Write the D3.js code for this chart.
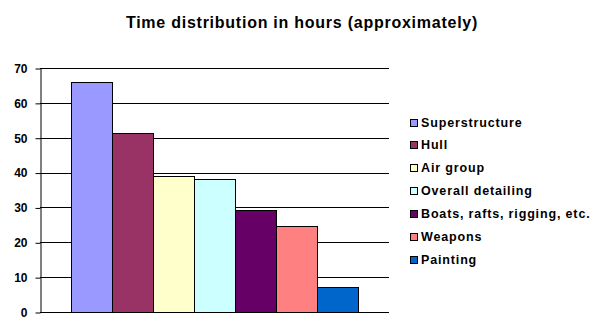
<!DOCTYPE html>
<html>
<head>
<meta charset="utf-8">
<script src="https://cdn.jsdelivr.net/npm/d3@7"></script>
<style>
  html, body { margin: 0; padding: 0; background: #fff; }
  svg { display: block; }
  text { font-family: "Liberation Sans", Arial, sans-serif; font-weight: bold; fill: #000; }
</style>
</head>
<body>
<svg id="chart" width="596" height="334"></svg>
<script>
const title = "Time distribution in hours (approximately)";
const seriesNames = ["Superstructure", "Hull", "Air group", "Overall detailing", "Boats, rafts, rigging, etc.", "Weapons", "Painting"];
const seriesValues = [66, 51.3, 39, 38.2, 29.3, 24.7, 7.2];
const seriesColors = ["#9999FF", "#993366", "#FFFFCC", "#CCFFFF", "#660066", "#FF8080", "#0066CC"];
const yTicks = [0, 10, 20, 30, 40, 50, 60, 70];

const svg = d3.select("#chart");
const plot = { left: 40, right: 389, top: 68, bottom: 312 };

const x = d3.scaleBand().domain(seriesNames).range([plot.left, plot.right]).paddingInner(0).paddingOuter(0.77);
const y = d3.scaleLinear().domain([0, 70]).range([plot.bottom, plot.top]);

// gridlines
svg.append("g").selectAll("line").data(yTicks.filter(d => d > 0)).join("line")
  .attr("x1", plot.left).attr("x2", plot.right)
  .attr("y1", d => Math.round(y(d)) + 0.5).attr("y2", d => Math.round(y(d)) + 0.5)
  .attr("stroke", "#000").attr("stroke-width", 1);

// bars
svg.append("g").selectAll("rect").data(seriesNames).join("rect")
  .attr("x", (d) => Math.round(x(d)) + 0.5)
  .attr("y", (d, i) => Math.round(y(seriesValues[i])) + 0.5)
  .attr("width", d => Math.round(x(d) + x.bandwidth()) - Math.round(x(d)))
  .attr("height", (d, i) => Math.round(y(0)) - Math.round(y(seriesValues[i])))
  .attr("fill", (d, i) => seriesColors[i])
  .attr("stroke", "#000").attr("stroke-width", 1);

// y axis
const yAxis = d3.axisLeft(y).tickValues(yTicks).tickSize(5).tickSizeOuter(0).tickPadding(8);
const ga = svg.append("g").attr("transform", `translate(${plot.left + 0.5},0.5)`).call(yAxis);
ga.select(".domain").attr("stroke", "#000");
ga.selectAll(".tick line").attr("stroke", "#000");
ga.selectAll(".tick text")
  .style("font-family", '"Liberation Sans", Arial, sans-serif')
  .style("font-weight", "bold").style("font-size", "12px").attr("fill", "#000");

// baseline
svg.append("line")
  .attr("x1", plot.left).attr("x2", plot.right)
  .attr("y1", Math.round(y(0)) + 0.5).attr("y2", Math.round(y(0)) + 0.5)
  .attr("stroke", "#000");

// title
svg.append("text")
  .attr("x", 302).attr("y", 28)
  .attr("text-anchor", "middle")
  .style("font-size", "16px").style("letter-spacing", "0.75px")
  .text(title);

// legend
const lg = svg.append("g");
const rowY = (i) => 122 + i * 22.9;
lg.selectAll("rect").data(seriesNames).join("rect")
  .attr("x", 410.5).attr("y", (d, i) => Math.round(rowY(i) - 3.5) + 0.5)
  .attr("width", 7).attr("height", 7)
  .attr("fill", (d, i) => seriesColors[i]).attr("stroke", "#000");
lg.selectAll("text").data(seriesNames).join("text")
  .attr("x", 421).attr("y", (d, i) => rowY(i))
  .attr("dy", "0.36em")
  .style("font-size", "12.5px").style("letter-spacing", "0.85px")
  .text(d => d);
</script>
</body>
</html>
